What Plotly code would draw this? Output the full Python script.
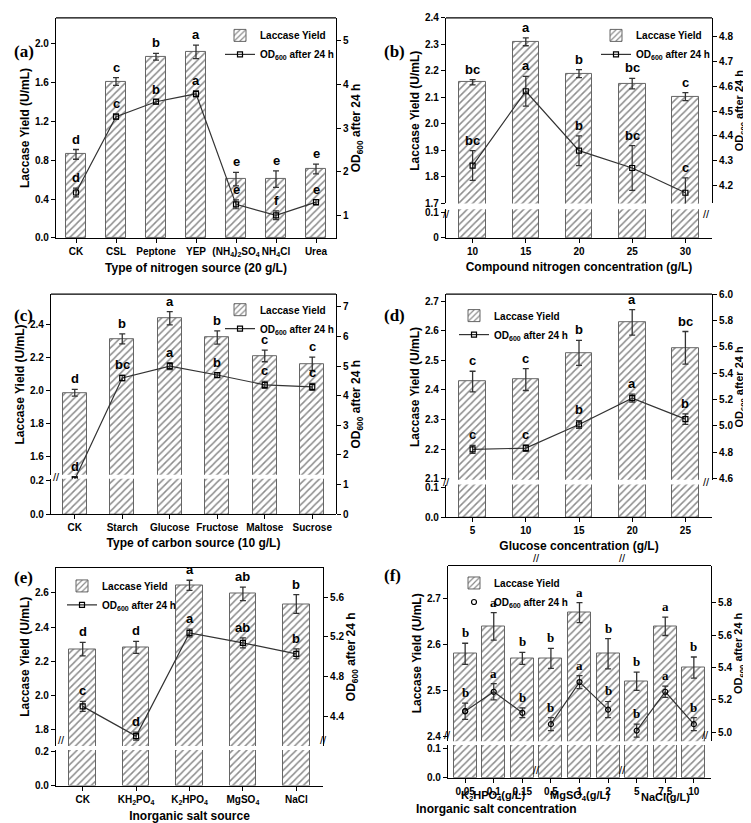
import plotly.graph_objects as go

W, H = 751, 823
FONT = "Arial, Liberation Sans, sans-serif"

# ---------------- data ----------------
a_cats = ["CK", "CSL", "Peptone", "YEP", "(NH<sub>4</sub>)<sub>2</sub>SO<sub>4</sub>", "NH<sub>4</sub>Cl", "Urea"]
a_lac = [0.86, 1.61, 1.865, 1.915, 0.605, 0.605, 0.71]
a_lac_err = [0.05, 0.04, 0.035, 0.07, 0.07, 0.085, 0.05]
a_od = [1.53, 3.26, 3.60, 3.78, 1.26, 1.01, 1.31]
a_od_err = [0.1, 0.06, 0.05, 0.07, 0.1, 0.1, 0.06]
a_lac_let = ["d", "c", "b", "a", "e", "e", "e"]
a_od_let = ["d", "c", "b", "a", "e", "f", "e"]

b_cats = ["10", "15", "20", "25", "30"]
b_lac = [2.157, 2.31, 2.19, 2.152, 2.103]
b_lac_err = [0.01, 0.015, 0.015, 0.02, 0.015]
b_od = [4.28, 4.58, 4.34, 4.27, 4.17]
b_od_err = [0.06, 0.06, 0.06, 0.09, 0.06]
b_lac_let = ["bc", "a", "b", "bc", "c"]
b_od_let = ["bc", "a", "b", "bc", "c"]

c_cats = ["CK", "Starch", "Glucose", "Fructose", "Maltose", "Sucrose"]
c_lac = [1.985, 2.31, 2.435, 2.318, 2.207, 2.16]
c_lac_err = [0.02, 0.03, 0.04, 0.04, 0.035, 0.04]
c_od = [1.17, 4.6, 5.0, 4.7, 4.37, 4.3]
c_od_err = [0.1, 0.1, 0.12, 0.08, 0.12, 0.12]
c_lac_let = ["d", "b", "a", "b", "c", "c"]
c_od_let = ["d", "bc", "a", "b", "c", "c"]

d_cats = ["5", "10", "15", "20", "25"]
d_lac = [2.428, 2.435, 2.525, 2.628, 2.542]
d_lac_err = [0.035, 0.037, 0.042, 0.043, 0.055]
d_od = [4.82, 4.83, 5.01, 5.21, 5.05]
d_od_err = [0.03, 0.025, 0.03, 0.03, 0.04]
d_lac_let = ["c", "c", "b", "a", "bc"]
d_od_let = ["c", "c", "b", "a", "b"]

e_cats = ["CK", "KH<sub>2</sub>PO<sub>4</sub>", "K<sub>2</sub>HPO<sub>4</sub>", "MgSO<sub>4</sub>", "NaCl"]
e_lac = [2.27, 2.28, 2.645, 2.595, 2.535]
e_lac_err = [0.04, 0.035, 0.03, 0.04, 0.055]
e_od = [4.5, 4.2, 5.24, 5.14, 5.03]
e_od_err = [0.05, 0.04, 0.04, 0.05, 0.05]
e_lac_let = ["d", "d", "a", "ab", "b"]
e_od_let = ["c", "d", "a", "ab", "b"]

f_cats = ["0.05", "0.1", "0.15", "0.5", "1", "2", "5", "7.5", "10"]
f_groups = ["K<sub>2</sub>HPO<sub>4</sub>(g/L)", "MgSO<sub>4</sub>(g/L)", "NaCl(g/L)"]
f_lac = [2.58, 2.64, 2.57, 2.57, 2.67, 2.58, 2.52, 2.64, 2.55]
f_lac_err = [0.023, 0.03, 0.013, 0.022, 0.022, 0.033, 0.02, 0.02, 0.023]
f_od = [5.13, 5.25, 5.12, 5.05, 5.31, 5.14, 5.01, 5.25, 5.05]
f_od_err = [0.05, 0.05, 0.03, 0.04, 0.04, 0.05, 0.04, 0.035, 0.04]
f_lac_let = ["b", "a", "b", "b", "a", "b", "b", "a", "b"]
f_od_let = ["b", "a", "b", "b", "a", "b", "b", "a", "b"]

# ---------------- helpers ----------------
fig = go.Figure()
layout = {}
anns = []
shapes = []
cnt = {"x": 0, "y": 0, "leg": 0}


def nx():
    cnt["x"] += 1
    return cnt["x"]


def ny():
    cnt["y"] += 1
    return cnt["y"]


def ref(k, n):
    return k + ("" if n == 1 else str(n))


def PX(p):
    return p / W


def PY(p):
    return 1 - p / H


TF = dict(family=FONT, size=10, color="black", weight="bold")
TITF = dict(family=FONT, size=12, color="black", weight="bold")


def yax(dom, rng, ticks, side="left", anchor=None, title=None, overlay=None, fmt=".1f", tsize=12):
    d = dict(range=rng, tickvals=ticks, showline=True, linecolor="black", linewidth=1.2,
             ticks="outside", ticklen=4, tickcolor="black", tickfont=TF, showgrid=False,
             zeroline=False, side=side, anchor=anchor, tickformat=fmt)
    if overlay:
        d["overlaying"] = overlay
    else:
        d["domain"] = dom
    if title:
        d["title"] = dict(text=title, font=TITF | dict(size=tsize), standoff=2)
    return d


def panel(label, labx, cats, lac, lerr, od, oerr, llet, olet, xpx, top, ltop, ltick, rtop, rtick,
          bot=None, lbot=None, lbtick=None, rbot=None, rbtick=None, rcont=None,
          xtitle="", legpos=(0, 0), bw=0.5, xs=None, xr=None, groups=None,
          sym="square-open", letfamily=FONT, rfmt=".1f", lbfmt=".1f", rbfmt=".1f", rts=12):
    if xs is None:
        xs = list(range(len(cats)))
    if xr is None:
        xr = [-0.5, len(cats) - 0.5]
    xi = nx()
    yl = ny()
    yr = ny()
    ybl = ybr = None
    if bot:
        ybl = ny()
        if rcont is None:
            ybr = ny()
    cnt["leg"] += 1
    legname = ref("legend", cnt["leg"])
    xa = ref("x", xi)
    anchor_y = ref("y", ybl if bot else yl)
    layout[ref("xaxis", xi)] = dict(
        domain=[PX(xpx[0]), PX(xpx[1])], range=xr, tickvals=xs, ticktext=cats,
        anchor=anchor_y, showline=True, linecolor="black", linewidth=1.2, ticks="outside",
        ticklen=4, tickcolor="black", tickfont=TF, showgrid=False, zeroline=False,
        title=dict(text=xtitle, font=TITF, standoff=6) if xtitle else None)
    layout[ref("yaxis", yl)] = yax([PY(top[1]), PY(top[0])], ltop, ltick, "left", xa,
                                   "Laccase Yield (U/mL)")
    odt = "OD<sub>600</sub> after 24 h"
    if rcont is not None:
        layout[ref("yaxis", yr)] = yax([PY(bot[1]), PY(top[0])], rcont[0], rcont[1], "right", xa,
                                       odt, fmt=rfmt, tsize=rts)
    else:
        layout[ref("yaxis", yr)] = yax(None, rtop, rtick, "right", xa, odt,
                                       overlay=ref("y", yl), fmt=rfmt, tsize=rts)
    if bot:
        layout[ref("yaxis", ybl)] = yax([PY(bot[1]), PY(bot[0])], lbot, lbtick, "left", xa, fmt=lbfmt)
        if ybr:
            layout[ref("yaxis", ybr)] = yax(None, rbot, rbtick, "right", xa,
                                            overlay=ref("y", ybl), fmt=rbfmt)
    marker = dict(color="white", line=dict(color="#666", width=1),
                  pattern=dict(shape="/", fgcolor="#8c8c8c", bgcolor="white", size=5,
                               solidity=0.3, fillmode="replace"))
    fig.add_trace(go.Bar(x=xs, y=lac, width=bw, marker=marker, name="Laccase Yield",
                         error_y=dict(type="data", array=lerr, color="#333", thickness=1.3, width=3),
                         xaxis=xa, yaxis=ref("y", yl), legend=legname, showlegend=True))
    if bot:
        fig.add_trace(go.Bar(x=xs, y=lac, width=bw, marker=marker, showlegend=False,
                             xaxis=xa, yaxis=ref("y", ybl), hoverinfo="skip"))
    mk = dict(symbol=sym, size=5, color="black", line=dict(width=1.2, color="black"))
    if groups is None:
        fig.add_trace(go.Scatter(x=xs, y=od, mode="lines+markers", name=odt, marker=mk,
                                 line=dict(color="#333", width=1.2),
                                 error_y=dict(type="data", array=oerr, color="#333", thickness=1.2, width=3),
                                 xaxis=xa, yaxis=ref("y", yr), legend=legname))
    else:
        for g in groups:
            fig.add_trace(go.Scatter(x=[xs[i] for i in g], y=[od[i] for i in g], mode="lines+markers",
                                     marker=mk, line=dict(color="#333", width=1.2), showlegend=False,
                                     error_y=dict(type="data", array=[oerr[i] for i in g], color="#333",
                                                  thickness=1.2, width=3),
                                     xaxis=xa, yaxis=ref("y", yr)))
        fig.add_trace(go.Scatter(x=[xs[0]], y=[od[0]], mode="markers", name=odt, marker=mk,
                                 xaxis=xa, yaxis=ref("y", yr), legend=legname))
    layout[legname] = dict(x=PX(legpos[0]), y=PY(legpos[1]), xanchor="left", yanchor="top",
                           bgcolor="rgba(0,0,0,0)", font=dict(family=FONT, size=10, color="black", weight="bold"),
                           tracegroupgap=0, itemwidth=30)
    lf = dict(family=letfamily, size=13, color="black", weight="bold")
    for i in range(len(xs)):
        anns.append(dict(x=xs[i], y=lac[i] + lerr[i], xref=xa, yref=ref("y", yl), text=llet[i],
                         showarrow=False, yanchor="bottom", yshift=1, font=lf))
        anns.append(dict(x=xs[i], y=od[i] + oerr[i], xref=xa, yref=ref("y", yr), text=olet[i],
                         showarrow=False, yanchor="bottom", yshift=1, font=lf))
    shapes.append(dict(type="line", xref="paper", yref="paper", x0=PX(xpx[0]), x1=PX(xpx[1]),
                       y0=PY(top[0]), y1=PY(top[0]), line=dict(color="black", width=1.2)))
    if bot:
        ym = PY((top[1] + bot[0]) / 2)
        sides = [xpx[0]] + ([xpx[1]] if rcont is None else [])
        for sx in sides:
            anns.append(dict(x=PX(sx), y=ym, xref="paper", yref="paper", text="//", showarrow=False,
                             font=dict(family=FONT, size=11, color="black")))
    anns.append(dict(x=PX(labx), y=PY(top[0] + 22), xref="paper", yref="paper", text=label,
                     showarrow=False, xanchor="left",
                     font=dict(family="Liberation Serif, Times New Roman, serif", size=17,
                               color="black", weight="bold")))
    return xa


panel("(a)", 4, a_cats, a_lac, a_lac_err, a_od, a_od_err, a_lac_let, a_od_let,
      (48, 328), (5, 228), [0, 2.264], [0, 0.4, 0.8, 1.2, 1.6, 2.0], [0.494, 5.51], [1, 2, 3, 4, 5],
      xtitle="Type of nitrogen source (20 g/L)", legpos=(212, 8), rfmt="d")

panel("(b)", 374, b_cats, b_lac, b_lac_err, b_od, b_od_err, b_lac_let, b_od_let,
      (438, 704), (5, 193), [1.7, 2.4], [1.7, 1.8, 1.9, 2.0, 2.1, 2.2, 2.3, 2.4],
      [4.127, 4.876], [4.2, 4.3, 4.4, 4.5, 4.6, 4.7, 4.8],
      bot=(199, 228), lbot=[0, 0.112], lbtick=[0, 0.1], rbot=[0, 0.126], rbtick=[0, 0.1],
      xtitle="Compound nitrogen concentration (g/L)", legpos=(588, 8), lbfmt="", rbfmt="", rts=11)

panel("(c)", 4, c_cats, c_lac, c_lac_err, c_od, c_od_err, c_lac_let, c_od_let,
      (43, 328), (285, 468), [1.49, 2.58], [1.6, 1.8, 2.0, 2.2, 2.4], None, None,
      bot=(472, 508), lbot=[0, 0.212], lbtick=[0, 0.2], rcont=([0, 7.43], [0, 1, 2, 3, 4, 5, 6, 7]),
      xtitle="Type of carbon source (10 g/L)", legpos=(212, 286), rfmt="d")

panel("(d)", 374, d_cats, d_lac, d_lac_err, d_od, d_od_err, d_lac_let, d_od_let,
      (438, 704), (285, 473), [2.097, 2.723], [2.1, 2.2, 2.3, 2.4, 2.5, 2.6, 2.7],
      [4.59, 6.0], [4.6, 4.8, 5.0, 5.2, 5.4, 5.6, 5.8, 6.0],
      bot=(478, 511), lbot=[0, 0.11], lbtick=[0, 0.1], rbot=[0, 0.236], rbtick=[0, 0.2],
      xtitle="Glucose concentration (g/L)", legpos=(446, 292), rbfmt="", rts=11)

panel("(e)", 4, e_cats, e_lac, e_lac_err, e_od, e_od_err, e_lac_let, e_od_let,
      (48, 315), (562, 743), [1.70, 2.75], [1.8, 2.0, 2.2, 2.4, 2.6],
      [4.10, 5.9], [4.4, 4.8, 5.2, 5.6],
      bot=(747, 783), lbot=[0, 0.211], lbtick=[0, 0.2], rbot=[0, 0.42], rbtick=[0, 0.4],
      xtitle="Inorganic salt source", legpos=(54, 566), rbfmt="")

xa_f = panel("(f)", 374, f_cats, f_lac, f_lac_err, f_od, f_od_err, f_lac_let, f_od_let,
             (440, 703), (560, 738), [2.389, 2.773], [2.4, 2.5, 2.6, 2.7],
             [4.945, 6.03], [5.0, 5.2, 5.4, 5.6, 5.8],
             bot=(742, 775), lbot=[0, 0.11], lbtick=[0, 0.1], rbot=[0, 0.2], rbtick=[0, 0.2],
             legpos=(446, 563), bw=0.8, xr=[-0.6, 8.6], groups=[[0, 1, 2], [3, 4, 5], [6, 7, 8]],
             sym="circle-open", letfamily="Liberation Serif, Times New Roman, serif", rts=11)

for gi, g in enumerate(f_groups):
    anns.append(dict(x=3 * gi + 1, y=PY(803), xref=xa_f, yref="paper", text=g, showarrow=False,
                     font=TITF | dict(size=11)))
anns.append(dict(x=PX(571), y=PY(816), xref="paper", yref="paper", text="Inorganic salt concentration",
                 showarrow=False, font=TITF))
for xb in (2.5, 5.5):
    for yy in (775, 560):
        anns.append(dict(x=xb, y=PY(yy), xref=xa_f, yref="paper", text="//", showarrow=False,
                         font=dict(family=FONT, size=11, color="black")))

fig.update_layout(width=W, height=H, autosize=False, margin=dict(l=0, r=0, t=0, b=0),
                  paper_bgcolor="white", plot_bgcolor="rgba(0,0,0,0)", bargap=0,
                  annotations=anns, shapes=shapes, **layout)
fig.write_html("out.html")
